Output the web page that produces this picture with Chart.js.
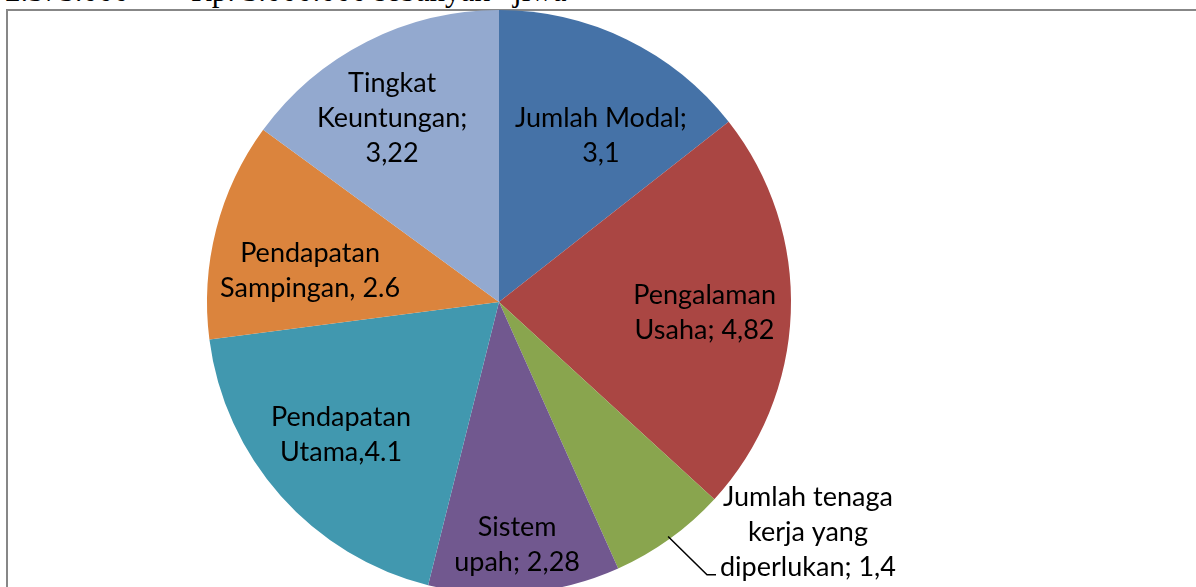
<!DOCTYPE html>
<html>
<head>
<meta charset="utf-8">
<script src="https://cdn.jsdelivr.net/npm/chart.js@4.4.1/dist/chart.umd.min.js"></script>
<style>
  html, body { margin:0; padding:0; background:#fff; width:1196px; height:587px; overflow:hidden; }
  #topline { position:absolute; left:5px; top:-25px; font-family:"Liberation Serif","DejaVu Serif",serif; font-size:31px; line-height:1; white-space:pre; color:#000; }
  #frame { position:absolute; left:6px; top:9px; width:1400px; height:800px; border:2px solid #878787; box-sizing:border-box; }
  #wrap { position:absolute; left:0; top:0; width:1196px; height:600px; }
</style>
</head>
<body>
<div id="topline">2.575.000   –   Rp. 3.000.000 sebanyak   jiwa</div>
<div id="frame"></div>
<div id="wrap"><canvas id="c" width="1196" height="600"></canvas></div>
<script>
const categories = ['Jumlah Modal', 'Pengalaman Usaha', 'Jumlah tenaga kerja yang diperlukan', 'Sistem upah', 'Pendapatan Utama', 'Pendapatan Sampingan', 'Tingkat Keuntungan'];
const values = [3.1, 4.82, 1.4, 2.28, 4.1, 2.6, 3.22];
const labelLines = [
  ['Jumlah Modal;', '3,1'],
  ['Pengalaman', 'Usaha; 4,82'],
  ['Jumlah tenaga', 'kerja yang', 'diperlukan; 1,4'],
  ['Sistem', 'upah; 2,28'],
  ['Pendapatan', 'Utama,4.1'],
  ['Pendapatan', 'Sampingan, 2.6'],
  ['Tingkat', 'Keuntungan;', '3,22']
];
const colors = ['#4572A7', '#AA4643', '#89A54E', '#71588F', '#4198AF', '#DB843D', '#93A9CF'];

// label block centres relative to pie centre, in units of the radius
const labelOffsets = [
  [0.349, -0.570], [0.704, 0.036], [1.058, 0.790], [0.062, 0.832],
  [-0.541, 0.455], [-0.647, -0.106], [-0.366, -0.630]
];
const leaderIndex = 2;

const labelPlugin = {
  id: 'sliceLabels',
  afterDatasetsDraw(chart) {
    const ctx = chart.ctx;
    const meta = chart.getDatasetMeta(0);
    const font = '27px Lato, "Open Sans", sans-serif';
    const lh = 35;
    ctx.save();
    ctx.font = font;
    ctx.fillStyle = '#000';
    ctx.textAlign = 'center';
    ctx.textBaseline = 'middle';
    meta.data.forEach((arc, i) => {
      const p = arc.getProps(['x', 'y', 'outerRadius', 'startAngle', 'endAngle'], true);
      const cx = p.x + labelOffsets[i][0] * p.outerRadius;
      const cy = p.y + labelOffsets[i][1] * p.outerRadius;
      const lines = labelLines[i];
      const y0 = cy - (lines.length - 1) * lh / 2;
      lines.forEach((t, k) => ctx.fillText(t, cx, y0 + k * lh));
      if (i === leaderIndex) {
        const mid = (p.startAngle + p.endAngle) / 2;
        const sx = p.x + Math.cos(mid) * p.outerRadius * 0.99;
        const sy = p.y + Math.sin(mid) * p.outerRadius * 0.99;
        const last = lines[lines.length - 1];
        const w = ctx.measureText(last).width;
        const ex = cx - w / 2 - 4;
        const ey = y0 + (lines.length - 1) * lh + 7;
        ctx.beginPath();
        ctx.strokeStyle = '#000';
        ctx.lineWidth = 1.5;
        ctx.moveTo(sx, sy);
        ctx.lineTo(ex - 9, ey);
        ctx.lineTo(ex, ey);
        ctx.stroke();
      }
    });
    ctx.restore();
  }
};

new Chart(document.getElementById('c'), {
  type: 'pie',
  data: {
    labels: categories,
    datasets: [{ data: values, backgroundColor: colors, borderWidth: 0 }]
  },
  options: {
    responsive: false,
    animation: false,
    layout: { padding: { left: 207, right: 405, top: 10, bottom: 6 } },
    plugins: { legend: { display: false }, tooltip: { enabled: false } }
  },
  plugins: [labelPlugin]
});
</script>
</body>
</html>
